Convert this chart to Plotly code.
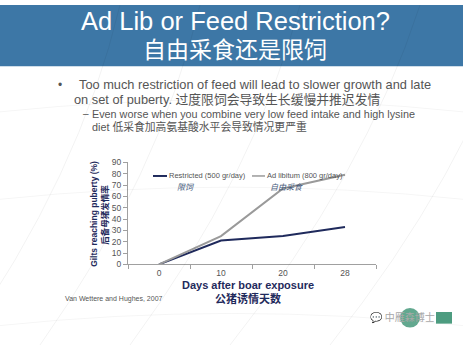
import plotly.graph_objects as go

days = ["0", "10", "20", "28"]
restricted = [0, 21, 25, 33]
ad_libitum = [0, 25, 67, 79]
y_ticks = [0, 10, 20, 30, 40, 50, 60, 70, 80, 90]

W, H = 463, 350
def px(x):
    return x / W
def py(y):
    return 1 - y / H

FONT = "Liberation Sans, Noto Sans CJK SC, sans-serif"
NAVY = "#1F2A5C"
GRAY_LINE = "#9A9A9A"
TXT = "#555555"

fig = go.Figure()
fig.add_trace(go.Scatter(x=days, y=restricted, mode="lines",
                         line=dict(color=NAVY, width=2), showlegend=False))
fig.add_trace(go.Scatter(x=days, y=ad_libitum, mode="lines",
                         line=dict(color=GRAY_LINE, width=2), showlegend=False))

shapes = []
# faint background arcs
for i, (x0, x1) in enumerate([(-40, 120), (40, 200), (130, 300), (230, 420), (330, 520)]):
    shapes.append(dict(type="path", xref="paper", yref="paper",
                       path=f"M {px(x0)},{py(350)} Q {px((x0+x1)/2+40)},{py(175)} {px(x1)},{py(0)}",
                       line=dict(color="rgba(0,0,0,0.05)", width=1)))
for yy in [110, 200, 330]:
    shapes.append(dict(type="path", xref="paper", yref="paper",
                       path=f"M 0,{py(yy)} Q 0.5,{py(yy-25)} 1,{py(yy)}",
                       line=dict(color="rgba(0,0,0,0.04)", width=1)))
# banner
shapes.append(dict(type="rect", xref="paper", yref="paper", x0=0, x1=1, y0=py(63), y1=1,
                   fillcolor="#3D77A6", line=dict(width=0), layer="below"))
# watermark logo blob
shapes.append(dict(type="circle", xref="paper", yref="paper", x0=px(400), x1=px(420), y0=py(332), y1=py(312),
                   fillcolor="rgba(46,139,106,0.75)", line=dict(width=0)))
shapes.append(dict(type="rect", xref="paper", yref="paper", x0=px(436), x1=px(452), y0=py(328), y1=py(316),
                   fillcolor="rgba(46,139,106,0.85)", line=dict(width=0)))
# legend samples
shapes.append(dict(type="line", xref="paper", yref="paper", x0=px(153), x1=px(167), y0=py(176), y1=py(176),
                   line=dict(color=NAVY, width=2)))
shapes.append(dict(type="line", xref="paper", yref="paper", x0=px(252), x1=px(265), y0=py(176), y1=py(176),
                   line=dict(color=GRAY_LINE, width=1.5)))

ann = []
def A(x, y, text, size, color, xanchor="left", **kw):
    ann.append(dict(x=px(x), y=py(y), xref="paper", yref="paper", text=text, showarrow=False,
                    xanchor=xanchor, yanchor="middle", font=dict(size=size, color=color, family=FONT), **kw))

A(235, 16, "Ad Lib or Feed Restriction?", 25.5, "white", "center")
A(235, 46, "自由采食还是限饲", 23, "white", "center")
A(56, 82, "•", 12, TXT, "left")
A(77, 82, "Too much restriction of feed will lead to slower growth and late", 12.8, TXT)
A(72, 97, "on set of puberty. 过度限饲会导致生长缓慢并推迟发情", 12.8, TXT)
A(81, 112, "–", 10, TXT)
A(90, 112, "Even worse when you combine very low feed intake and high lysine", 10.8, TXT)
A(90, 125, "diet 低采食加高氨基酸水平会导致情况更严重", 10.8, TXT)

A(167, 176, "Restricted (500 gr/day)", 7.5, TXT)
A(265, 176, "Ad libitum (800 gr/day)", 7.5, TXT)
A(175, 188, "<i>限饲</i>", 8, "#44577A")
A(268, 188, "<i>自由采食</i>", 8, "#44577A")

ann.append(dict(x=px(94), y=py(215), xref="paper", yref="paper", text="<b>Gilts reaching puberty (%)</b>",
                showarrow=False, textangle=-90, xanchor="center", yanchor="middle",
                font=dict(size=8.5, color=NAVY, family=FONT)))
ann.append(dict(x=px(105), y=py(216), xref="paper", yref="paper", text="<b>后备母猪发情率</b>",
                showarrow=False, textangle=-90, xanchor="center", yanchor="middle",
                font=dict(size=8.5, color=NAVY, family=FONT)))

A(248, 288, "<b>Days after boar exposure</b>", 11, NAVY, "center")
A(248, 302, "<b>公猪诱情天数</b>", 11, NAVY, "center")
A(63, 303, "Van Wettere and Hughes, 2007", 7, TXT)

A(368, 322, "💬 中雁森博士", 10, "#A8A8A8", "left")

fig.update_layout(
    width=W, height=H, margin=dict(l=0, r=0, t=0, b=0),
    paper_bgcolor="white", plot_bgcolor="rgba(0,0,0,0)",
    shapes=shapes, annotations=ann,
    xaxis=dict(domain=[px(128), px(376)], type="category", range=[-0.5, 3.5],
               showgrid=False, zeroline=False, showline=True, linecolor="#A0A0A0", linewidth=1,
               ticks="outside", tickson="boundaries", ticklen=4, tickcolor="#A0A0A0",
               tickfont=dict(size=8.5, color=TXT, family=FONT)),
    yaxis=dict(domain=[py(267), py(162)], range=[0, 90], tickvals=y_ticks,
               showgrid=False, zeroline=False, showline=True, linecolor="#A0A0A0", linewidth=1,
               ticks="outside", ticklen=4, tickcolor="#A0A0A0",
               tickfont=dict(size=8.5, color=TXT, family=FONT)),
)

fig.write_html("out.html")
